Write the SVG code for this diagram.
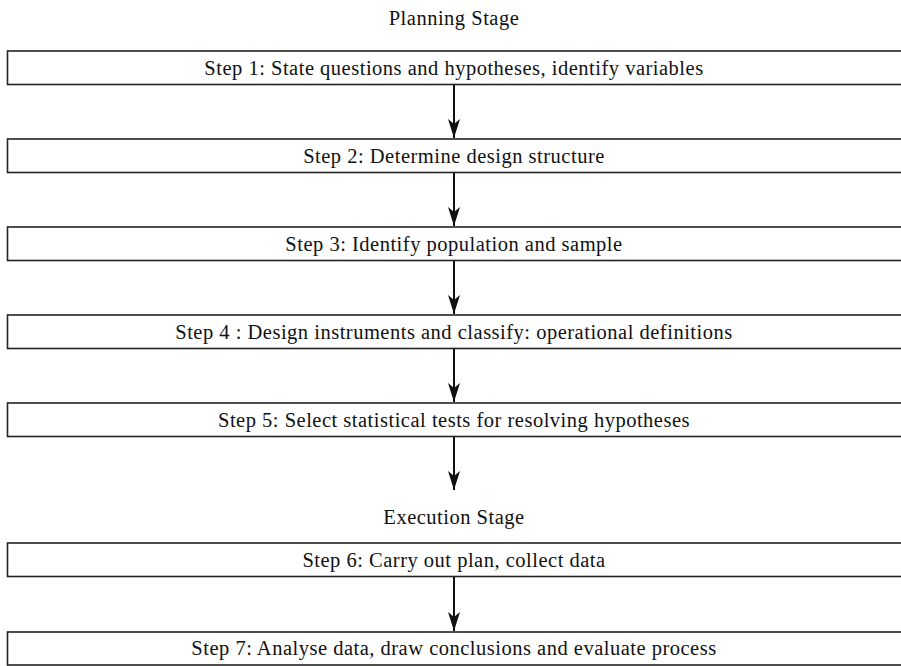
<svg xmlns="http://www.w3.org/2000/svg" width="901" height="666" viewBox="0 0 901 666">
<style>
.box{fill:#fff;stroke:#222;stroke-width:1.6}
.t{font-family:"Liberation Serif","Times New Roman",serif;font-size:20.5px;letter-spacing:0.5px;fill:#111;text-anchor:middle}
.c{stroke:#111;stroke-width:2;fill:none}
</style>
<defs>
<marker id="ah" markerUnits="userSpaceOnUse" markerWidth="20" markerHeight="12" refX="19" refY="6" orient="auto" viewBox="0 0 20 12">
<path d="M0,0 L19,6 L0,12 L5,6 Z" fill="#111"/>
</marker>
</defs>
<text class="t" x="454" y="25">Planning Stage</text>
<text class="t" x="454" y="524">Execution Stage</text>
<g id="connectors">
<line class="c" x1="454" y1="85" x2="454" y2="138" marker-end="url(#ah)"/>
<line class="c" x1="454" y1="173" x2="454" y2="226" marker-end="url(#ah)"/>
<line class="c" x1="454" y1="261" x2="454" y2="314" marker-end="url(#ah)"/>
<line class="c" x1="454" y1="349" x2="454" y2="402" marker-end="url(#ah)"/>
<line class="c" x1="454" y1="437" x2="454" y2="490" marker-end="url(#ah)"/>
<line class="c" x1="454" y1="577" x2="454" y2="631" marker-end="url(#ah)"/>
</g>
<g id="step1"><rect class="box" x="7.5" y="51" width="900" height="33.5"/><text class="t" x="454" y="74.5">Step 1: State questions and hypotheses, identify variables</text></g>
<g id="step2"><rect class="box" x="7.5" y="139" width="900" height="33.5"/><text class="t" x="454" y="162.5">Step 2: Determine design structure</text></g>
<g id="step3"><rect class="box" x="7.5" y="227" width="900" height="33.5"/><text class="t" x="454" y="250.5">Step 3: Identify population and sample</text></g>
<g id="step4"><rect class="box" x="7.5" y="315" width="900" height="33.5"/><text class="t" x="454" y="338.5">Step 4 : Design instruments and classify: operational definitions</text></g>
<g id="step5"><rect class="box" x="7.5" y="403" width="900" height="33.5"/><text class="t" x="454" y="426.5">Step 5: Select statistical tests for resolving hypotheses</text></g>
<g id="step6"><rect class="box" x="7.5" y="543" width="900" height="33.5"/><text class="t" x="454" y="566.5">Step 6: Carry out plan, collect data</text></g>
<g id="step7"><rect class="box" x="7.5" y="632" width="900" height="33"/><text class="t" x="454" y="655">Step 7: Analyse data, draw conclusions and evaluate process</text></g>
</svg>
